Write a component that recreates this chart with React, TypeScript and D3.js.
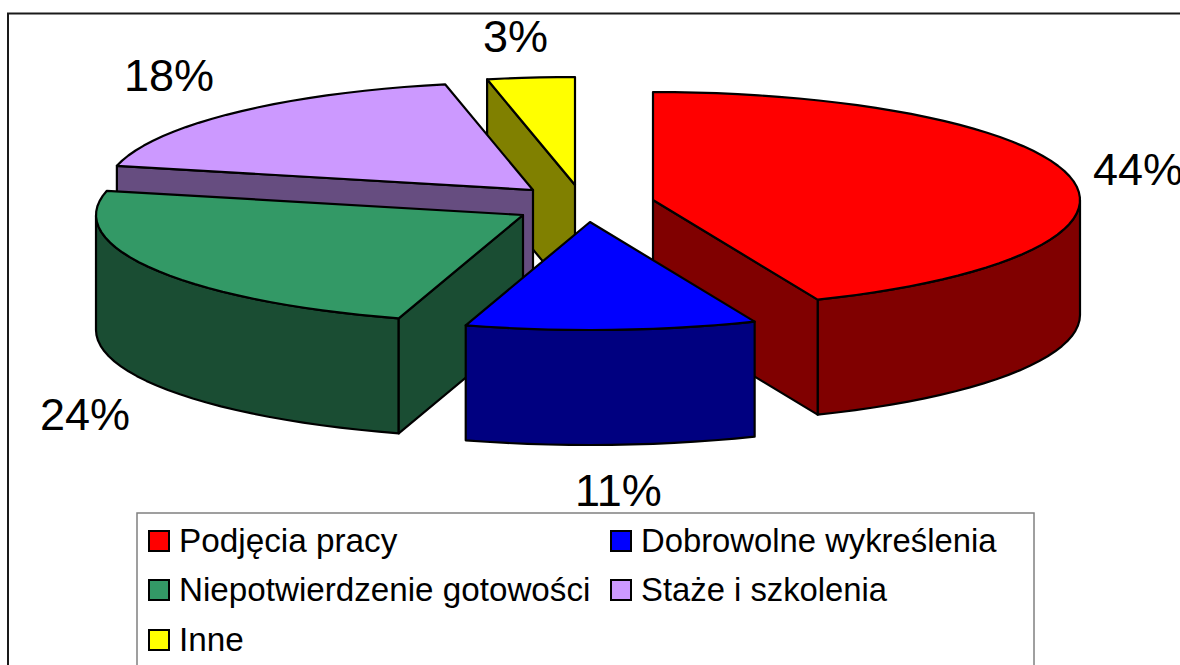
import React from "react";
import * as d3 from "d3";

const categories = ["Podjęcia pracy", "Dobrowolne wykreślenia", "Niepotwierdzenie gotowości", "Staże i szkolenia", "Inne"];
const shares = [43.7, 11.0, 23.9, 18.1, 3.3];
const topColors = ["#ff0000", "#0000ff", "#339966", "#cc99ff", "#ffff00"];
const sideColors = ["#800000", "#000080", "#1a4d33", "#664d80", "#808000"];

// Layout (not data): exploded apex of each slice, label anchors, legend cells
const apexX = [653, 590, 523, 533, 575];
const apexY = [200, 222, 215, 190, 185];
const labelX = [1093, 575, 40, 124, 483];
const labelY = [185, 506, 430, 91, 52];
const legendX = [149, 611, 149, 611, 149];
const legendY = [531, 531, 580, 580, 630];
const legendFont = [33.3, 32.8, 33.2, 32.8, 33.3];
const drawOrder = [4, 3, 0, 2, 1];

const RX = 427;
const RY = 108;
const DEPTH = 115;
const FONT = "'Liberation Sans', Arial, sans-serif";
const TAU = 2 * Math.PI;

const arcs = d3.pie<number>().sort(null).startAngle(0).endAngle(TAU)(shares);
const line = d3.line<[number, number]>();

function Slice({ i }: { i: number }) {
  const { startAngle: a0, endAngle: a1 } = arcs[i];
  const cx = apexX[i];
  const cy = apexY[i];
  const pt = (a: number, dz = 0): [number, number] => [cx + RX * Math.sin(a), cy - RY * Math.cos(a) + dz];
  const sample = (from: number, to: number) => {
    const n = Math.max(1, Math.ceil((to - from) / 0.05));
    return d3.range(n + 1).map((k) => from + ((to - from) * k) / n);
  };
  const top: [number, number][] = [[cx, cy], ...sample(a0, a1).map((a) => pt(a))];
  const face = (a: number): [number, number][] => [[cx, cy], pt(a), pt(a, DEPTH), [cx, cy + DEPTH]];
  const w0 = Math.max(a0, Math.PI / 2);
  const w1 = Math.min(a1, (3 * Math.PI) / 2);
  const wallAngles = w1 > w0 ? sample(w0, w1) : [];
  const wall: [number, number][] = [
    ...wallAngles.map((a) => pt(a)),
    ...wallAngles.slice().reverse().map((a) => pt(a, DEPTH)),
  ];
  const common = { stroke: "#000", strokeWidth: 2.2, strokeLinejoin: "round" as const };
  const faces: number[] = [];
  if (a0 > Math.PI && a0 < TAU) faces.push(a0);
  if (a1 > 0 && a1 < Math.PI) faces.push(a1);
  return (
    <g>
      {wall.length > 0 && <path d={line(wall) + "Z"} fill={sideColors[i]} {...common} />}
      {faces.map((a) => (
        <path key={a} d={line(face(a)) + "Z"} fill={sideColors[i]} {...common} />
      ))}
      <path d={line(top) + "Z"} fill={topColors[i]} {...common} />
    </g>
  );
}

export default function App() {
  return (
    <svg
      width={1180}
      height={665}
      viewBox="0 0 1180 665"
      style={{ position: "absolute", left: 0, top: 0, display: "block", background: "#fff" }}
      fontFamily={FONT}
    >
      <rect x={8} y={13.5} width={1300} height={800} fill="#fff" stroke="#1a1a1a" strokeWidth={2} />
      {drawOrder.map((i) => (
        <Slice key={i} i={i} />
      ))}
      {shares.map((v, i) => (
        <text key={i} x={labelX[i]} y={labelY[i]} fontSize={45} fill="#000">
          {`${Math.round(v)}%`}
        </text>
      ))}
      <rect x={137} y={513} width={897} height={300} fill="#fff" stroke="#808080" strokeWidth={1.5} />
      {categories.map((c, i) => (
        <g key={c}>
          <rect x={legendX[i]} y={legendY[i]} width={20} height={20} fill={topColors[i]} stroke="#000" strokeWidth={2} />
          <text x={legendX[i] + 30} y={legendY[i] + 21} fontSize={legendFont[i]} fill="#000">
            {c}
          </text>
        </g>
      ))}
    </svg>
  );
}
